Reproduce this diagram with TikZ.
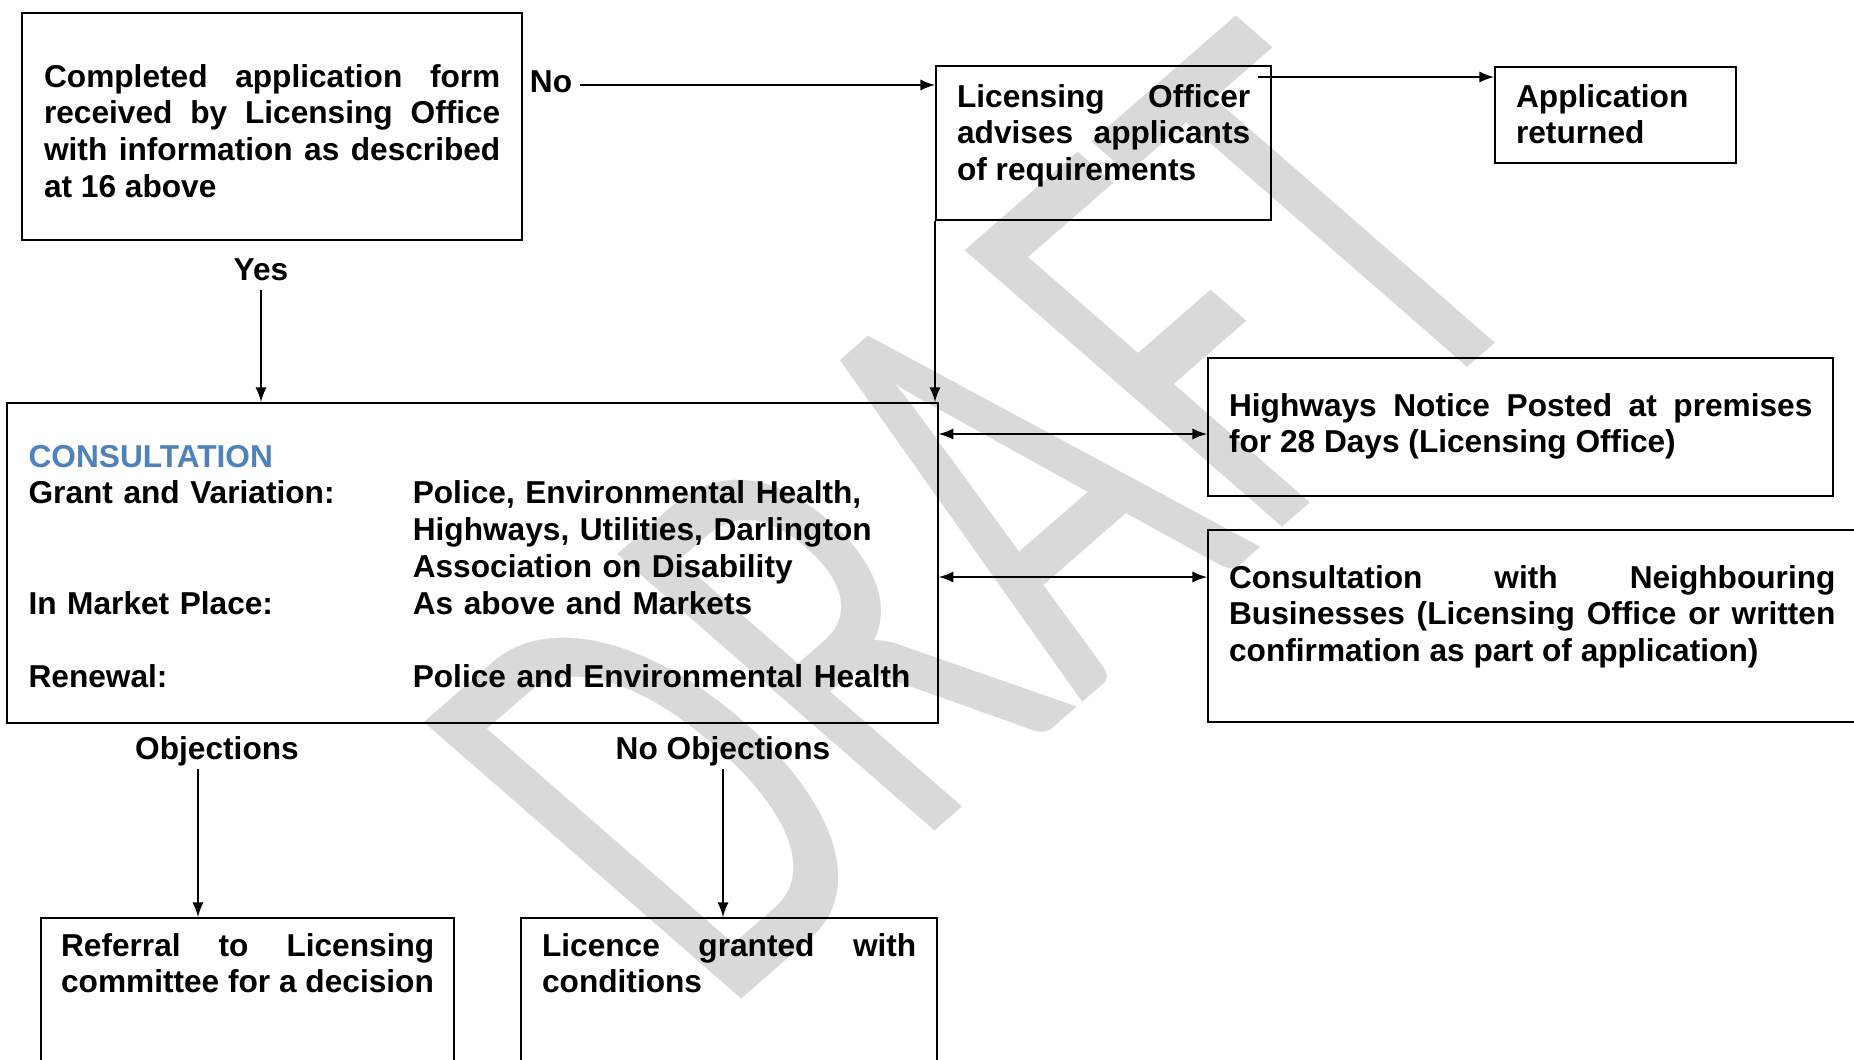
\documentclass[tikz,border=0pt]{standalone}
\usepackage{fontspec}
\setmainfont{Liberation Sans}
\newfontfamily\wmfont{Carlito}
\usetikzlibrary{arrows,calc}
\definecolor{consblue}{RGB}{79,129,189}
\definecolor{wmgray}{RGB}{217,217,217}
\hyphenpenalty=10000
\exhyphenpenalty=10000

\tikzset{
  flowbox/.style={draw, line width=0.6pt, anchor=north west, inner xsep=0.21cm,
    inner ysep=0pt, align=justify, font=\bfseries\fontsize{9}{10.45}\selectfont},
  flowlabel/.style={anchor=base, inner xsep=0.07cm, inner ysep=0pt, text height=0.23cm,
    text depth=0.09cm, font=\bfseries\fontsize{9}{10.45}\selectfont},
  flowline/.style={line width=0.45pt, -latex},
  wmark/.style={font=\wmfont\fontsize{199}{199}\selectfont, text=wmgray, inner sep=0pt,
    yscale=0.871, rotate=45, xscale=0.63}
}

\begin{document}
\begin{tikzpicture}[x=0.01cm, y=0.01cm]
\useasboundingbox (0,0) rectangle (1854,-1059);
\clip (0,0) rectangle (1854,-1059);
% watermark behind everything
\node[wmark] (wm) at (980,-515) {DRAFT};
% top row
\node[flowbox, inner xsep=0.22cm, text width=4.56cm, text height=0.74cm, text depth=1.53cm] (form) at (21,-12)
  {Completed application form\linebreak received by Licensing Office\linebreak with information as described\linebreak at 16 above};
\node[flowbox, text width=2.93cm, text height=0.41cm, text depth=1.13cm] (lic) at (935,-65)
  {Licensing Officer\linebreak advises applicants\linebreak of requirements};
\node[flowbox, align=left, text width=1.99cm, text height=0.40cm, text depth=0.56cm] (ret) at (1494,-66)
  {Application\\returned};
% consultation
\node[flowbox, align=left, text width=8.87cm, text height=0.64cm, text depth=2.56cm, inner xsep=0.215cm] (cons) at (6,-402)
  {{\color{consblue}CONSULTATION}\\
   \makebox[3.84cm][l]{Grant and Variation:}Police, Environmental Health,\\
   \hspace*{3.84cm}Highways, Utilities, Darlington\\
   \hspace*{3.84cm}Association on Disability\\
   \makebox[3.84cm][l]{In Market Place:}As above and Markets\\[10.45pt]
   \makebox[3.84cm][l]{Renewal:}Police and Environmental Health};
\node[flowbox, text width=5.83cm, text height=0.58cm, text depth=0.80cm] (hw) at (1207,-357)
  {Highways Notice Posted at premises\linebreak for 28 Days (Licensing Office)};
\node[flowbox, text width=6.06cm, text height=0.58cm, text depth=1.34cm] (nb) at (1207,-529)
  {Consultation with Neighbouring\linebreak Businesses (Licensing Office or written\linebreak confirmation as part of application)};
% outcomes
\node[flowbox, inner xsep=0.20cm, text width=3.73cm, text height=0.38cm, text depth=1.6cm] (ref) at (40,-917)
  {Referral to Licensing\linebreak committee for a decision};
\node[flowbox, text width=3.74cm, text height=0.38cm, text depth=1.6cm] (grant) at (520,-917)
  {Licence granted with\linebreak conditions};
% labels
\node[flowlabel] (no) at (551,-92) {No};
\node[flowlabel] (yes) at (261,-280) {Yes};
\node[flowlabel] (obj) at (217,-759) {Objections};
\node[flowlabel] (noobj) at (723,-759) {No Objections};
% connectors
\coordinate (retin) at ($(lic.north east)+(-14,-12)$);
\coordinate (hwin) at ($(cons.north east)+(0,-32)$);
\coordinate (nbin) at ($(nb.north west)+(0,-48)$);
\coordinate (objout) at ($(obj.south)+(-19,0)$);
\draw[flowline] (no.east) -- (no.east -| lic.west);
\draw[flowline] (retin) -- (retin -| ret.west);
\draw[flowline] (lic.south west) -- (lic.south west |- cons.north);
\draw[flowline] (yes.south) -- (yes.south |- cons.north);
\draw[flowline, latex-latex] (hwin) -- (hwin -| hw.west);
\draw[flowline, latex-latex] (nbin -| cons.east) -- (nbin);
\draw[flowline] (objout) -- (objout |- ref.north);
\draw[flowline] (noobj.south) -- (noobj.south |- grant.north);
\end{tikzpicture}
\end{document}
